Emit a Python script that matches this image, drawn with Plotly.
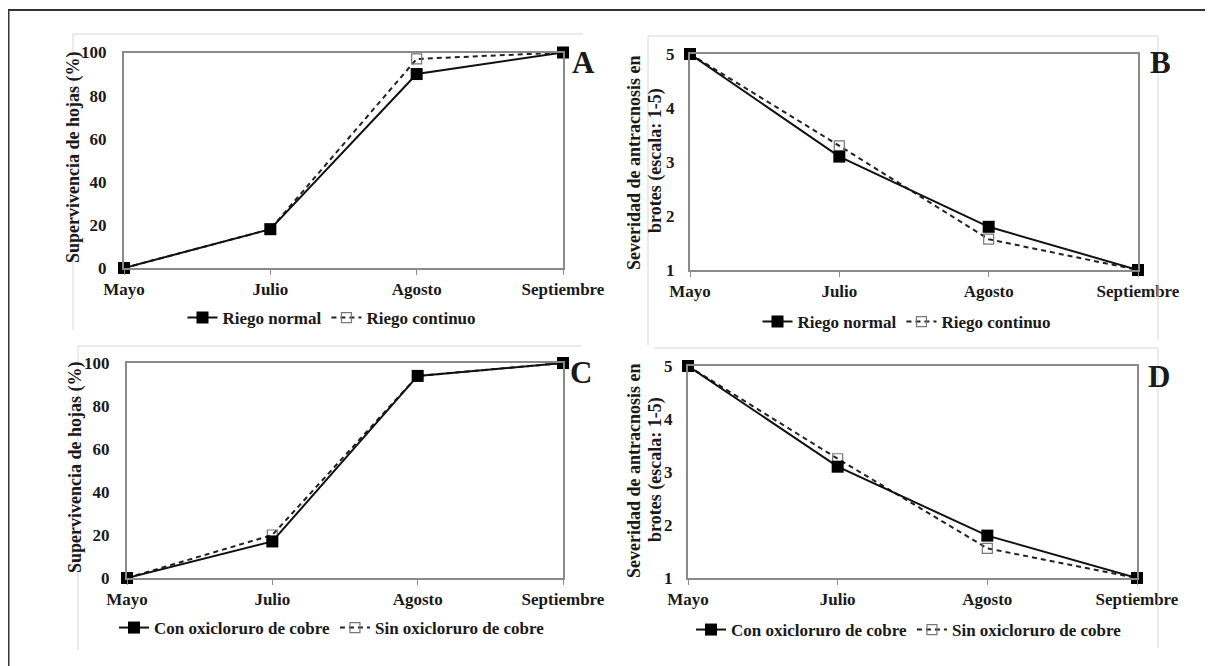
import plotly.graph_objects as go

# ---------------- data ----------------
months = ["Mayo", "Julio", "Agosto", "Septiembre"]

riego_normal_surv = [0, 18, 90, 100]
riego_continuo_surv = [0, 18, 97, 100]

riego_normal_sev = [5, 3.1, 1.8, 1]
riego_continuo_sev = [5, 3.3, 1.57, 1]

con_oxi_surv = [0, 17, 94, 100]
sin_oxi_surv = [0, 20, 94, 100]

con_oxi_sev = [5, 3.1, 1.8, 1]
sin_oxi_sev = [5, 3.25, 1.56, 1]

surv_ticks = [0, 20, 40, 60, 80, 100]
sev_ticks = [1, 2, 3, 4, 5]

name_normal = "Riego normal"
name_continuo = "Riego continuo"
name_con = "Con oxicloruro de cobre"
name_sin = "Sin oxicloruro de cobre"

title_surv = "Supervivencia de hojas (%)"
title_sev_1 = "Severidad de antracnosis en"
title_sev_2 = "brotes (escala: 1-5)"

# ---------------- layout helpers ----------------
W, H = 1213, 666
OFF = 8  # page body margin offset
SERIF = "Liberation Serif"
TXT = "#1a1a1a"
FRAME = "#8a8a8a"


def px(x):
    return (x - OFF) / W


def py(y):
    return 1 - (y - OFF) / H


fig = go.Figure()

panels = [
    ("x", "y", "legend", riego_normal_surv, riego_continuo_surv, name_normal, name_continuo),
    ("x2", "y2", "legend2", riego_normal_sev, riego_continuo_sev, name_normal, name_continuo),
    ("x3", "y3", "legend3", con_oxi_surv, sin_oxi_surv, name_con, name_sin),
    ("x4", "y4", "legend4", con_oxi_sev, sin_oxi_sev, name_con, name_sin),
]

for xa, ya, lg, solid, dashed, sname, dname in panels:
    fig.add_trace(go.Scatter(
        x=months, y=dashed, name=dname, xaxis=xa, yaxis=ya, legend=lg,
        mode="lines+markers", legendrank=2, cliponaxis=False,
        line=dict(color="#222222", width=2, dash="5px,4px"),
        marker=dict(symbol="square-open", size=10, color="#777777",
                    line=dict(width=1.2, color="#777777")),
    ))
    fig.add_trace(go.Scatter(
        x=months, y=solid, name=sname, xaxis=xa, yaxis=ya, legend=lg,
        mode="lines+markers", legendrank=1, cliponaxis=False,
        line=dict(color="#111111", width=2),
        marker=dict(symbol="square", size=12, color="#000000"),
    ))

# plot-area pixel boxes (left, right, top, bottom)
boxes = {
    "1": (124, 563, 52.5, 268),
    "2": (690, 1138, 54, 270),
    "3": (127, 563, 363, 578),
    "4": (688, 1137, 366, 578),
}

tickfont = dict(family=SERIF, size=17, color=TXT, weight="bold")

for k, (l, r, t, b) in boxes.items():
    sx = "" if k == "1" else k
    surv = k in ("1", "3")
    fig.update_layout(**{
        f"xaxis{sx}": dict(
            domain=[px(l), px(r)], anchor=f"y{sx}", type="category",
            range=[0, 3], showgrid=False, zeroline=False, automargin=False,
            showline=True, mirror=True, linecolor=FRAME, linewidth=2,
            ticks="outside", ticklen=5, tickcolor=FRAME, tickwidth=1,
            tickfont=tickfont, ticklabelstandoff=0,
        ),
        f"yaxis{sx}": dict(
            domain=[py(b), py(t)], anchor=f"x{sx}", automargin=False,
            range=[0, 100] if surv else [1, 5],
            tickvals=surv_ticks if surv else sev_ticks,
            showgrid=False, zeroline=False,
            showline=True, mirror=True, linecolor=FRAME, linewidth=2,
            ticks="", tickfont=tickfont, ticklabelstandoff=12 if surv else 10,
        ),
    })

legfont = dict(family=SERIF, size=17, color=TXT, weight="bold")
leg_pos = {
    "legend": (332, 318),
    "legend2": (907, 322),
    "legend3": (332, 628),
    "legend4": (909, 630),
}
for lg, (cx, cy) in leg_pos.items():
    fig.update_layout(**{lg: dict(
        x=px(cx), y=py(cy), xanchor="center", yanchor="middle",
        orientation="h", font=legfont, bgcolor="rgba(0,0,0,0)",
        traceorder="normal", itemwidth=30, tracegroupgap=0,
    )})

annos = [
    (73, 157, title_surv, -90, 18),
    (634, 163, title_sev_1, -90, 18),
    (655, 161, title_sev_2, -90, 18),
    (76, 467, title_surv, -90, 18),
    (634, 471, title_sev_1, -90, 18),
    (655, 470, title_sev_2, -90, 18),
    (583, 62, "A", 0, 31),
    (1160, 62, "B", 0, 31),
    (581, 372, "C", 0, 31),
    (1159, 376, "D", 0, 31),
]
for ax_, ay_, txt, ang, sz in annos:
    fig.add_annotation(
        x=px(ax_), y=py(ay_), xref="paper", yref="paper", text=txt,
        textangle=ang, showarrow=False, xanchor="center", yanchor="middle",
        font=dict(family=SERIF, size=sz, color=TXT, weight="bold"),
    )

shapes = []
shapes.append(dict(type="line", xref="paper", yref="paper",
                   x0=px(8), x1=1.0, y0=py(10), y1=py(10),
                   line=dict(color="#333333", width=2)))
shapes.append(dict(type="line", xref="paper", yref="paper",
                   x0=px(8.5), x1=px(8.5), y0=py(10), y1=0.0,
                   line=dict(color="#333333", width=2)))
faint = dict(color="#d6d6d6", width=1)
for (x0, y0, x1, y1) in [
    (73, 34, 583, 34), (73, 34, 73, 330),
    (648, 36, 1158, 36), (648, 36, 648, 345), (1158, 36, 1158, 340),
    (78, 346, 581, 346), (78, 346, 78, 650),
    (654, 348, 1158, 348), (1158, 348, 1158, 648),
]:
    shapes.append(dict(type="line", xref="paper", yref="paper",
                       x0=px(x0), x1=px(x1), y0=py(y0), y1=py(y1), line=faint))

fig.update_layout(
    template="none",
    width=W, height=H, margin=dict(l=0, r=0, t=0, b=0, autoexpand=False),
    paper_bgcolor="white", plot_bgcolor="white",
    shapes=shapes, showlegend=True,
)

fig.write_html("out.html")
